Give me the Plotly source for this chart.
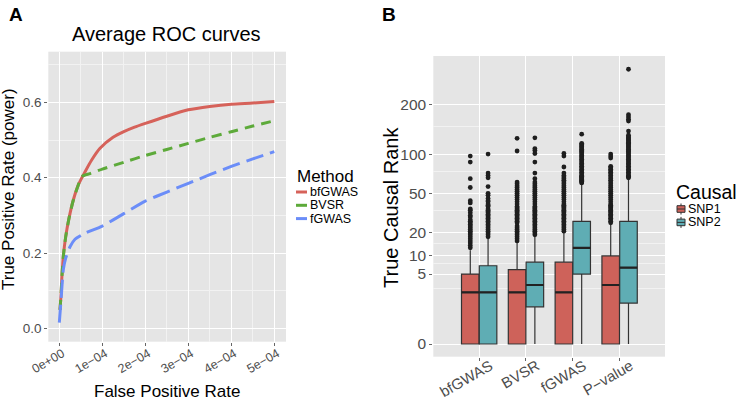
import numpy as np
import plotly.graph_objects as go

# ---------------- Panel A data: average ROC curves ----------------
methods = ["bfGWAS", "BVSR", "fGWAS"]
# false positive rate in units of 1e-4
bf_fpr = [0.016, 0.04, 0.056, 0.093, 0.149, 0.226, 0.326, 0.442, 0.6, 0.753, 0.947, 1.25, 1.5, 1.75,
          2.0, 2.5, 3.0, 3.5, 4.0, 4.5, 5.0]
bf_tpr = [0.05, 0.09, 0.129, 0.191, 0.244, 0.293, 0.341, 0.381, 0.416, 0.447, 0.478, 0.507, 0.522, 0.534,
          0.544, 0.563, 0.580, 0.589, 0.595, 0.598, 0.602]
bvsr_fpr = [0.016, 0.04, 0.056, 0.093, 0.149, 0.226, 0.326, 0.442, 0.52, 0.714, 1.0, 1.5, 2.0, 2.5,
            3.0, 3.5, 4.0, 4.5, 5.0]
bvsr_tpr = [0.05, 0.09, 0.129, 0.191, 0.244, 0.293, 0.341, 0.381, 0.403, 0.411, 0.423, 0.441, 0.459, 0.475,
            0.491, 0.507, 0.522, 0.537, 0.551]
fg_fpr = [0.0, 0.04, 0.093, 0.149, 0.249, 0.365, 0.6, 1.0, 1.5, 2.0, 2.5, 3.0, 3.5, 4.0, 4.5, 5.0]
fg_tpr = [0.016, 0.076, 0.156, 0.187, 0.217, 0.237, 0.253, 0.272, 0.305, 0.338, 0.362, 0.385, 0.408,
          0.430, 0.450, 0.469]
fpr_ticks = [0, 1, 2, 3, 4, 5]
fpr_ticktext = ["0e+00", "1e\u221204", "2e\u221204", "3e\u221204", "4e\u221204", "5e\u221204"]
tpr_ticks = [0.0, 0.2, 0.4, 0.6]
tpr_ticktext = ["0.0", "0.2", "0.4", "0.6"]

# ---------------- Panel B data: true causal rank boxplots ----------------
cats = ["bfGWAS", "BVSR", "fGWAS", "P\u2212value"]
snp1_q1 = [0, 0, 0, 0]
snp1_med = [2, 2, 2, 3]
snp1_q3 = [5, 6, 8, 10]
snp1_lo = [0, 0, 0, 0]
snp1_hi = [12, 15, 20, 25]
snp2_q1 = [0, 0.75, 5, 1]
snp2_med = [2, 3, 13, 6.5]
snp2_q3 = [7, 8, 27, 27]
snp2_lo = [0, 0, 0, 0]
snp2_hi = [17, 18, 60, 66]

snp1_out = [
    [13, 14, 15, 16, 17, 18, 19, 20, 21, 22, 23, 24, 25, 26, 27, 28, 30, 31, 33, 35, 36, 41, 43, 56, 66, 88, 97],
    [16, 17, 18, 19, 20, 21, 22, 23, 24, 26, 27, 28, 29, 30, 31, 32, 33, 34, 35, 36, 37, 38, 40, 42, 44, 46,
     48, 50, 52, 54, 56, 58, 60, 62, 105, 127],
    [21, 22, 23, 24, 25, 26, 27, 28, 29, 30, 31, 32, 33, 34, 35, 36, 37, 38, 39, 40, 42, 44, 46, 48, 50, 52,
     54, 56, 58, 60, 62, 64, 66, 68, 70, 73, 81, 97, 101],
    [26, 27, 28, 29, 30, 31, 32, 33, 34, 35, 36, 37, 38, 39, 40, 42, 44, 46, 48, 50, 52, 54, 56, 58, 60, 62,
     64, 66, 68, 70, 72, 74, 76, 78, 80, 82, 94, 97, 100],
]
snp2_out = [
    [18, 19, 20, 21, 22, 23, 24, 25, 26, 27, 28, 29, 30, 31, 32, 33, 34, 35, 36, 38, 39, 40, 42, 43, 45, 48,
     50, 57, 67, 70, 73, 100],
    [19, 20, 21, 22, 23, 24, 25, 26, 27, 28, 29, 30, 31, 32, 33, 34, 35, 36, 37, 38, 40, 42, 44, 46, 48, 50,
     52, 54, 56, 58, 60, 62, 66, 73, 88, 101, 106, 109, 128],
    [61, 62, 63, 64, 65, 66, 67, 68, 69, 70, 72, 74, 76, 78, 80, 82, 84, 86, 88, 90, 92, 94, 96, 98, 100,
     102, 104, 106, 108, 110, 112, 114, 116, 118, 135],
    [67, 68, 69, 70, 72, 74, 76, 78, 80, 82, 84, 86, 88, 90, 92, 94, 96, 98, 100, 102, 104, 106, 108, 110,
     112, 114, 116, 118, 120, 122, 124, 126, 128, 130, 133, 141, 162, 166, 171, 176, 303],
]
rank_ticks = [0, 5, 10, 20, 50, 100, 200]
rank_minor = [2.5, 7.5, 15, 35, 75, 150]

# ---------------- styling ----------------
W, H = 747, 400
FONT = "Liberation Sans, Arial, Helvetica, sans-serif"
RED_LINE, GREEN_LINE, BLUE_LINE = "#D6625A", "#5DAA3A", "#6B8DF8"
RED_BOX, TEAL_BOX = "#CE625A", "#5FADB4"
BG = "#E5E5E5"
TICKC = "#4D4D4D"


def px(x):
    return x / W


def py(y):
    return 1 - y / H


def cbrt(v):
    return np.cbrt(np.asarray(v, dtype=float))


fig = go.Figure()

# ROC curves
for name, xs, ys, col, dash in [
    ("bfGWAS", bf_fpr, bf_tpr, RED_LINE, "solid"),
    ("BVSR", bvsr_fpr, bvsr_tpr, GREEN_LINE, "10px,7px"),
    ("fGWAS", fg_fpr, fg_tpr, BLUE_LINE, "18px,7px"),
]:
    fig.add_trace(go.Scatter(
        x=[v * 1e-4 for v in xs], y=ys, mode="lines", name=name,
        line=dict(color=col, width=3, dash=dash, shape="spline", smoothing=0.6),
        xaxis="x", yaxis="y", showlegend=False))

# Boxplots (cube-root transformed rank axis)
pos = np.arange(1, len(cats) + 1)
off = 0.19
bw = 0.375
for name, q1, med, q3, lo, hi, outs, col, sgn in [
    ("SNP1", snp1_q1, snp1_med, snp1_q3, snp1_lo, snp1_hi, snp1_out, RED_BOX, -1),
    ("SNP2", snp2_q1, snp2_med, snp2_q3, snp2_lo, snp2_hi, snp2_out, TEAL_BOX, 1),
]:
    xp = pos + sgn * off
    fig.add_trace(go.Box(
        x=xp, q1=cbrt(q1), median=cbrt(med), q3=cbrt(q3), lowerfence=cbrt(lo), upperfence=cbrt(hi),
        width=bw, fillcolor=col, line=dict(color="#333333", width=1.2), whiskerwidth=0,
        name=name, xaxis="x2", yaxis="y2", showlegend=False, hoverinfo="skip"))
    # thicker median lines
    mx, my = [], []
    for xi, m in zip(xp, cbrt(med)):
        mx += [xi - bw / 2, xi + bw / 2, None]
        my += [m, m, None]
    fig.add_trace(go.Scatter(x=mx, y=my, mode="lines", line=dict(color="#222222", width=2.2),
                             xaxis="x2", yaxis="y2", showlegend=False, hoverinfo="skip"))
    ox, oy = [], []
    for xi, o in zip(xp, outs):
        ox += [xi] * len(o)
        oy += list(cbrt(o))
    fig.add_trace(go.Scatter(x=ox, y=oy, mode="markers", marker=dict(color="#1E1E1E", size=4.8),
                             xaxis="x2", yaxis="y2", showlegend=False, hoverinfo="skip"))

grid_major = dict(showgrid=True, gridcolor="white", gridwidth=1.3, zeroline=False, showline=False,
                  ticks="outside", ticklen=3, tickwidth=1, tickcolor="#666666", automargin=False)

fig.update_layout(
    width=W, height=H, margin=dict(l=0, r=0, t=0, b=0, pad=0, autoexpand=False),
    paper_bgcolor="white", plot_bgcolor=BG, showlegend=False,
    font=dict(family=FONT, color="black"),
    xaxis=dict(domain=[px(48.3), px(286)], range=[-0.256e-4, 5.272e-4],
               tickmode="array", tickvals=[v * 1e-4 for v in fpr_ticks], ticktext=fpr_ticktext,
               tickangle=-30, ticklabelstandoff=-4, ticklabelshift=3,
               minor=dict(tickvals=[(v + 0.5) * 1e-4 for v in fpr_ticks[:-1]], showgrid=True,
                          gridcolor="#F2F2F2", gridwidth=0.7),
               anchor="y", tickfont=dict(family=FONT, color=TICKC, size=12.5), **grid_major),
    yaxis=dict(domain=[py(341.7), py(51.7)], range=[-0.0345, 0.734],
               tickmode="array", tickvals=tpr_ticks, ticktext=tpr_ticktext,
               minor=dict(tickvals=[v + 0.1 for v in tpr_ticks], showgrid=True,
                          gridcolor="#F2F2F2", gridwidth=0.7),
               anchor="x", tickfont=dict(family=FONT, color=TICKC, size=13.5), **grid_major),
    xaxis2=dict(domain=[px(433.3), px(665)], range=[0.02, 4.97],
                tickmode="array", tickvals=list(pos), ticktext=cats, tickangle=-30,
                ticklabelstandoff=-9, ticklabelshift=11,
                anchor="y2", tickfont=dict(family=FONT, color=TICKC, size=15), **grid_major),
    yaxis2=dict(domain=[py(356.7), py(56)], range=[-0.31, 7.04],
                tickmode="array", tickvals=list(cbrt(rank_ticks)), ticktext=[str(v) for v in rank_ticks],
                minor=dict(tickvals=list(cbrt(rank_minor)), showgrid=True, gridcolor="#F2F2F2", gridwidth=0.7),
                anchor="x2", tickfont=dict(family=FONT, color=TICKC, size=15.5), **grid_major),
)

ann = []


def text(x, y, s, size, bold=False, angle=0, xanchor="center", color="black"):
    ann.append(dict(x=px(x), y=py(y), xref="paper", yref="paper", text=("<b>%s</b>" % s) if bold else s,
                    showarrow=False, xanchor=xanchor, yanchor="middle", textangle=angle,
                    font=dict(family=FONT, size=size, color=color)))


text(15.5, 15, "A", 19, bold=True)
text(389, 14, "B", 19, bold=True)
text(166.5, 33.5, "Average ROC curves", 20)
text(166.5, 391, "False Positive Rate", 17)
text(9, 189, "True Positive Rate (power)", 17, angle=-90)
text(390.5, 207.5, "True Causal Rank", 20, angle=-90)

# legend A
text(295, 176.5, "Method", 17, xanchor="left")
shapes = []
for i, (m, col) in enumerate(zip(methods, [RED_LINE, GREEN_LINE, BLUE_LINE])):
    yy = 192 + i * 13.3
    text(308, yy, m, 12.5, xanchor="left")
    shapes.append(dict(type="line", xref="paper", yref="paper", x0=px(296), x1=px(307), y0=py(yy), y1=py(yy),
                       line=dict(color=col, width=3)))

# legend B
text(674, 191.5, "Causal", 19.5, xanchor="left")
for i, (s, col) in enumerate(zip(["SNP1", "SNP2"], [RED_BOX, TEAL_BOX])):
    yy = 209 + i * 13.4
    text(685.5, yy, s, 12.5, xanchor="left")
    shapes.append(dict(type="line", xref="paper", yref="paper", x0=px(681), x1=px(681), y0=py(yy - 5.5),
                       y1=py(yy + 5.5), line=dict(color="#333333", width=1)))
    shapes.append(dict(type="rect", xref="paper", yref="paper", x0=px(677), x1=px(685), y0=py(yy - 3.3),
                       y1=py(yy + 3.3), fillcolor=col, line=dict(color="#333333", width=1)))
    shapes.append(dict(type="line", xref="paper", yref="paper", x0=px(677), x1=px(685), y0=py(yy),
                       y1=py(yy), line=dict(color="#333333", width=1)))

fig.update_layout(annotations=ann, shapes=shapes)
fig.write_html("out.html", config={"displayModeBar": False},
               post_script="document.body.style.margin='0px';")
